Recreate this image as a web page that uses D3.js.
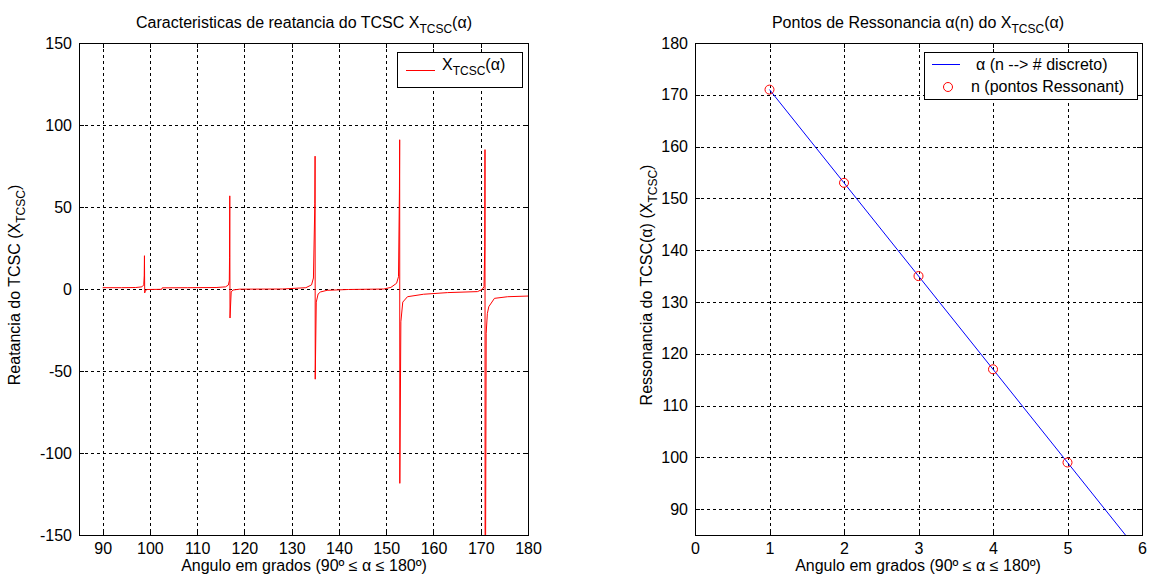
<!DOCTYPE html>
<html>
<head>
<meta charset="utf-8">
<script src="https://cdn.jsdelivr.net/npm/d3@7"></script>
<style>
  body { margin: 0; background: #fff; }
  text { font-family: "Liberation Sans", Arial, sans-serif; font-size: 16px; fill: #000; }
</style>
</head>
<body>
<svg id="fig" width="1155" height="582"></svg>
<script>
// left panel: reactance X_TCSC(alpha)
var alphaDeg = [90, 94, 97, 98.3, 98.7, 98.8, 98.85, 98.9, 99.05, 99.4, 102.5, 102.6, 108, 114,
  116, 116.6, 116.8, 116.85, 116.9, 116.95, 117.2, 117.6, 119, 128,
  133, 134.2, 134.6, 134.9, 134.95, 134.98, 135.2, 135.6, 136.1, 137.5, 142, 149.5,
  151, 152.2, 152.6, 152.8, 152.85, 152.88, 153.1, 153.5, 154.5, 157.9, 163, 169.3,
  170.3, 170.7, 170.85, 170.9, 170.93, 171.15, 171.4, 171.7, 172.9, 175.7, 180];
var xTcsc = [0.8, 0.8, 0.9, 1.3, 2.5, 8, 20.3, -2.4, -1.0, -0.3, -0.2, 0.7, 0.8, 0.9,
  1.3, 2.4, 5, 19, 56.8, -17.7, -1.8, -0.6, -0.1, 0,
  0.8, 2.5, 6.7, 52, 81, -55, -8, -3, -1.8, -0.8, -0.3, 0,
  1, 3.5, 7.5, 61, 91, -118.5, -20, -8, -4.7, -3.2, -2.2, -1.6,
  -0.3, 1.4, 26, 85, -260, -27, -15, -10.8, -5.7, -4.7, -4.3];

// right panel: resonance points alpha(n)
var nRes = [1, 2, 3, 4, 5];
var alphaRes = [171, 153, 135, 117, 99];
var nLine = [1, 2, 3, 4, 5, 6];
var alphaLine = [171, 153, 135, 117, 99, 81];

var leftXTicks = [90, 100, 110, 120, 130, 140, 150, 160, 170, 180];
var leftYTicks = [-150, -100, -50, 0, 50, 100, 150];
var rightXTicks = [0, 1, 2, 3, 4, 5, 6];
var rightYTicks = [90, 100, 110, 120, 130, 140, 150, 160, 170, 180];

var svg = d3.select("#fig");
var plotTop = 43, plotBottom = 535;

// text with TeX-like subscripts: parts = [[string, isSub], ...]
function richText(sel, parts) {
  var prevSub = false;
  parts.forEach(function(p) {
    var t = sel.append("tspan").text(p[0]);
    if (p[1]) t.style("font-size", "12px");
    if (p[1] && !prevSub) t.attr("dy", 5);
    if (!p[1] && prevSub) t.attr("dy", -5);
    prevSub = p[1];
  });
  return sel;
}

function panel(id, x, y, xTicks, yTicks) {
  var g = svg.append("g");
  var x0 = x.range()[0], x1 = x.range()[1];
  var fmt = d => String(d);   // plain hyphen minus, like the original

  svg.append("clipPath").attr("id", id)
    .append("rect").attr("x", x0).attr("y", plotTop)
    .attr("width", x1 - x0 + 1).attr("height", plotBottom - plotTop + 1);

  // dotted grid
  g.selectAll(".gx").data(xTicks).enter().append("line")
    .attr("x1", d => Math.round(x(d)) + 0.5).attr("x2", d => Math.round(x(d)) + 0.5)
    .attr("y1", plotTop).attr("y2", plotBottom)
    .attr("stroke", "#000").attr("stroke-dasharray", "3,3").attr("shape-rendering", "crispEdges");
  g.selectAll(".gy").data(yTicks).enter().append("line")
    .attr("y1", d => Math.round(y(d)) + 0.5).attr("y2", d => Math.round(y(d)) + 0.5)
    .attr("x1", x0).attr("x2", x1)
    .attr("stroke", "#000").attr("stroke-dasharray", "3,3").attr("shape-rendering", "crispEdges");

  var marks = g.append("g").attr("clip-path", "url(#" + id + ")");

  // axes with inward ticks
  var ax = g.append("g").attr("transform", `translate(0,${plotBottom})`)
    .call(d3.axisBottom(x).tickValues(xTicks).tickFormat(fmt).tickSizeInner(-5).tickSizeOuter(0).tickPadding(8));
  g.append("g").attr("transform", `translate(${x0},0)`)
    .call(d3.axisLeft(y).tickValues(yTicks).tickFormat(fmt).tickSizeInner(-5).tickSizeOuter(0).tickPadding(7));
  g.append("g").attr("transform", `translate(0,${plotTop})`)
    .call(d3.axisTop(x).tickValues(xTicks).tickSizeInner(-5).tickSizeOuter(0).tickFormat(""));
  g.append("g").attr("transform", `translate(${x1},0)`)
    .call(d3.axisRight(y).tickValues(yTicks).tickSizeInner(-5).tickSizeOuter(0).tickFormat(""));
  g.selectAll(".domain").remove();
  g.selectAll(".tick line").attr("shape-rendering", "crispEdges");
  g.selectAll(".tick text").attr("font-family", null).attr("font-size", null).style("font-size", "16px");
  ax.selectAll(".tick text").attr("dy", "0.71em");

  g.append("rect").attr("x", x0 + 0.5).attr("y", plotTop + 0.5)
    .attr("width", x1 - x0).attr("height", plotBottom - plotTop)
    .attr("fill", "none").attr("stroke", "#000").attr("shape-rendering", "crispEdges");
  return { g: g, marks: marks };
}

// ---- left chart
var xL = d3.scaleLinear().domain([85, 180]).range([79, 528]);
var yL = d3.scaleLinear().domain([-150, 150]).range([plotBottom, plotTop]);
var pL = panel("clipL", xL, yL, leftXTicks, leftYTicks);

var curve = alphaDeg.map((a, i) => [a, xTcsc[i]]);
pL.marks.append("path").datum(curve)
  .attr("fill", "none").attr("stroke", "#ff0000").attr("stroke-width", 1)
  .attr("d", d3.line().x(d => xL(d[0])).y(d => yL(d[1])));

richText(svg.append("text").attr("x", 304).attr("y", 28).attr("text-anchor", "middle"),
  [["Caracteristicas de reatancia do TCSC X", false], ["TCSC", true], ["(α)", false]]);
svg.append("text").attr("x", 304).attr("y", 571).attr("text-anchor", "middle")
  .text("Angulo em grados (90º ≤ α ≤ 180º)");
richText(svg.append("text").attr("transform", "translate(20,285) rotate(-90)").attr("text-anchor", "middle"),
  [["Reatancia do TCSC (X", false], ["TCSC", true], [")", false]]);

// legend
var legL = svg.append("g");
legL.append("rect").attr("x", 397.5).attr("y", 52.5).attr("width", 125).attr("height", 35)
  .attr("fill", "#fff").attr("stroke", "#000").attr("shape-rendering", "crispEdges");
legL.append("line").attr("x1", 406).attr("x2", 435).attr("y1", 70.5).attr("y2", 70.5)
  .attr("stroke", "#ff0000");
richText(legL.append("text").attr("x", 442).attr("y", 70),
  [["X", false], ["TCSC", true], ["(α)", false]]);

// ---- right chart
var xR = d3.scaleLinear().domain([0, 6]).range([695, 1142]);
var yR = d3.scaleLinear().domain([85, 180]).range([plotBottom, plotTop]);
var pR = panel("clipR", xR, yR, rightXTicks, rightYTicks);

pR.marks.append("path").datum(nLine.map((n, i) => [n, alphaLine[i]]))
  .attr("fill", "none").attr("stroke", "#0000ff").attr("stroke-width", 1)
  .attr("d", d3.line().x(d => xR(d[0])).y(d => yR(d[1])));
pR.marks.selectAll("circle").data(nRes).enter().append("circle")
  .attr("cx", (d) => xR(d)).attr("cy", (d, i) => yR(alphaRes[i])).attr("r", 4.5)
  .attr("fill", "none").attr("stroke", "#ff0000");

richText(svg.append("text").attr("x", 918).attr("y", 28).attr("text-anchor", "middle"),
  [["Pontos de Ressonancia α(n) do X", false], ["TCSC", true], ["(α)", false]]);
svg.append("text").attr("x", 918).attr("y", 571).attr("text-anchor", "middle")
  .text("Angulo em grados (90º ≤ α ≤ 180º)");
richText(svg.append("text").attr("transform", "translate(652,285) rotate(-90)").attr("text-anchor", "middle"),
  [["Ressonancia do TCSC(α) (X", false], ["TCSC", true], [")", false]]);

var legR = svg.append("g");
legR.append("rect").attr("x", 924.5).attr("y", 52.5).attr("width", 213).attr("height", 47)
  .attr("fill", "#fff").attr("stroke", "#000").attr("shape-rendering", "crispEdges");
legR.append("line").attr("x1", 932).attr("x2", 960).attr("y1", 64.5).attr("y2", 64.5)
  .attr("stroke", "#0000ff");
legR.append("text").attr("x", 976).attr("y", 70).text("α (n --> # discreto)");
legR.append("circle").attr("cx", 948).attr("cy", 87).attr("r", 4.5)
  .attr("fill", "none").attr("stroke", "#ff0000");
legR.append("text").attr("x", 971).attr("y", 92).text("n (pontos Ressonant)");
</script>
</body>
</html>
